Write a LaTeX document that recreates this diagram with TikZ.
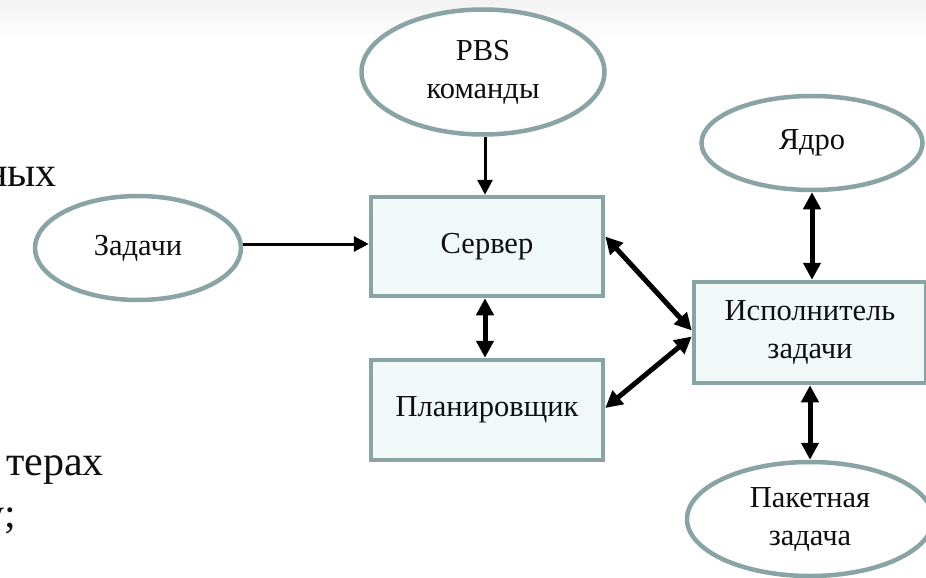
\documentclass[tikz,border=0pt]{standalone}
\usepackage{fontspec}
\setmainfont{Liberation Serif}
\usetikzlibrary{shapes.geometric,arrows.meta}
\definecolor{edgegray}{RGB}{138,164,166}
\definecolor{boxfill}{RGB}{240,248,248}
\definecolor{txt}{RGB}{15,15,15}
\tikzset{
  oval/.style={ellipse, draw=edgegray, line width=4.5pt, fill=white, inner sep=0pt, align=center, font=\fontsize{30.5}{38}\selectfont, text=txt},
  rbox/.style={rectangle, draw=edgegray, line width=4.5pt, fill=boxfill, inner sep=0pt, align=center, font=\fontsize{30.5}{38}\selectfont, text=txt},
  one/.style={line width=3pt, -{Triangle[length=15pt,width=15pt]}},
  two/.style={line width=5pt, {Triangle[length=17pt,width=17pt]}-{Triangle[length=17pt,width=17pt]}},
  frag/.style={inner sep=0pt, font=\fontsize{42}{50}\selectfont, text=txt}
}
\begin{document}
\begin{tikzpicture}[x=1pt,y=-1pt]
\useasboundingbox (0,0) rectangle (926,578);
\fill[white] (0,0) rectangle (926,578);
\shade[top color=black!5, bottom color=white] (0,0) rectangle (926,40);
\begin{scope}
\clip (0,0) rectangle (926,578);
% slide text fragments
\node[frag, anchor=base east] (f1) at (57,186) {ных};
\node[frag, anchor=base west] (f2) at (6,475) {терах};
\node[frag, anchor=base east] (f3) at (16,527) {у;};
% nodes
\node[oval, minimum width=243, minimum height=125] (pbs) at (483,72) {PBS\\команды};
\node[oval, minimum width=206, minimum height=104] (tasks) at (138,248) {Задачи};
\node[rbox, minimum width=232, minimum height=99] (srv) at (487,246.5) {Сервер};
\node[rbox, minimum width=232, minimum height=100] (plan) at (487,410) {Планировщик};
\node[rbox, minimum width=232, minimum height=101] (exe) at (810,332.5) {Исполнитель\\задачи};
\node[oval, minimum width=221, minimum height=94] (core) at (812,143) {Ядро};
\node[oval, minimum width=246, minimum height=114] (job) at (810,519) {Пакетная\\задача};
% connectors
\draw[one] ([xshift=2pt]pbs.south) -- ([xshift=2pt]pbs.south |- srv.north);
\draw[one] ([yshift=4pt]tasks.east) -- ([yshift=4pt]tasks.east -| srv.west);
\draw[two] ([xshift=-2pt]srv.south) -- ([xshift=-2pt]plan.north);
\draw[two] ([yshift=10pt]srv.east) -- ([yshift=2pt]exe.west);
\draw[two] ([yshift=2pt]plan.east) -- ([yshift=-4pt]exe.west);
\draw[two] (core.south) -- (core.south |- exe.north);
\draw[two] (exe.south) -- (exe.south |- job.north);
\end{scope}
\end{tikzpicture}
\end{document}
